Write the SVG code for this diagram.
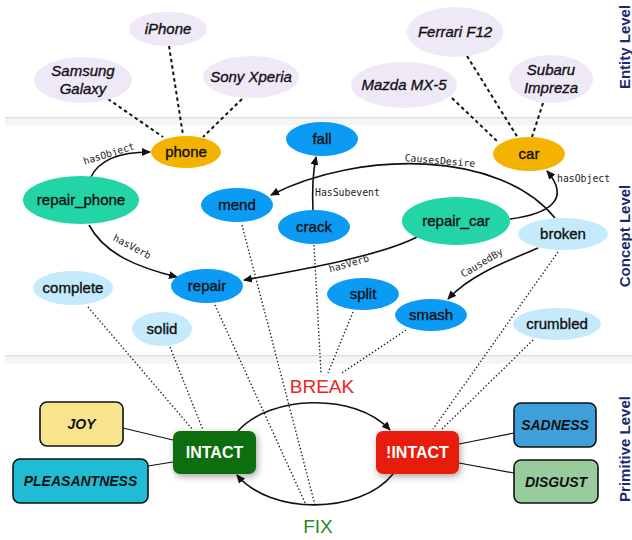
<svg xmlns="http://www.w3.org/2000/svg" width="632" height="540" viewBox="0 0 632 540">
  <style>
    .ent { fill: #EEE8F7; }
    .obj { fill: #F5B301; }
    .con { fill: #0B9BF4; }
    .task { fill: #22D4A6; }
    .adj { fill: #C4EAFB; }
    .t { font-family: "Liberation Sans", Arial, sans-serif; font-size: 15px; fill: #111; stroke: #111; stroke-width: 0.35; text-anchor: middle; }
    .ti { font-family: "Liberation Sans", Arial, sans-serif; font-size: 15px; font-style: italic; fill: #111; stroke: #111; stroke-width: 0.35; text-anchor: middle; }
    .rel { font-family: "DejaVu Sans Mono", "Liberation Mono", monospace; font-size: 9.8px; fill: #222; }
    .box { stroke: #111; stroke-width: 1.6; }
    .bt { font-family: "Liberation Sans", Arial, sans-serif; font-size: 14px; font-weight: bold; font-style: italic; fill: #111; text-anchor: middle; }
    .st { font-family: "Liberation Sans", Arial, sans-serif; font-size: 16px; font-weight: bold; fill: #fff; text-anchor: middle; }
    .lvl { font-family: "Liberation Sans", Arial, sans-serif; font-size: 15px; font-weight: bold; fill: #1B2A70; text-anchor: middle; }
    .dash { stroke: #111; stroke-width: 2; stroke-dasharray: 3.5 3; fill: none; }
    .dot { stroke: #222; stroke-width: 1.4; stroke-dasharray: 1.4 2.2; fill: none; }
    .edge { stroke: #111; stroke-width: 1.3; fill: none; }
    .arr { stroke: #111; stroke-width: 1.6; fill: none; marker-end: url(#ah); }
    .link { stroke: #111; stroke-width: 1.2; fill: none; }
  </style>
  <defs>
    <marker id="ah" markerUnits="userSpaceOnUse" markerWidth="9" markerHeight="8" refX="8" refY="4" orient="auto">
      <path d="M0,0 L9,4 L0,8 z" fill="#111"/>
    </marker>
    <filter id="shadow" x="-30%" y="-40%" width="160%" height="190%">
      <feDropShadow dx="1.5" dy="2.5" stdDeviation="3.5" flood-color="#000" flood-opacity="0.35"/>
    </filter>
  </defs>

  <rect width="632" height="540" fill="#fff"/>

  <!-- level separators -->
  <g id="separators">
    <rect x="5" y="117" width="627" height="1.6" fill="#DADFE2"/>
    <rect x="5" y="118.6" width="627" height="7" fill="#F3F5F6"/>
    <rect x="5" y="355" width="627" height="1.6" fill="#DADFE2"/>
    <rect x="5" y="356.6" width="627" height="7" fill="#F3F5F6"/>
  </g>

  <g id="connectors">
    <!-- entity instances -->
    <path class="dash" d="M108,99 L163,137"/>
    <path class="dash" d="M169,46 L183,135"/>
    <path class="dash" d="M242,99 L203,137"/>
    <path class="dash" d="M452,98 L498,142"/>
    <path class="dash" d="M467,56 L518,138"/>
    <path class="dash" d="M543,103 L532,137"/>

    <!-- concept to primitive grounding -->
    <path class="dot" d="M88,307 L193,430"/>
    <path class="dot" d="M170,347 L203,430"/>
    <path class="dot" d="M215,305 L306,505"/>
    <path class="dot" d="M242,225 L315,505"/>
    <path class="dot" d="M314,245 L321,373"/>
    <path class="dot" d="M353,312 L328,373"/>
    <path class="dot" d="M406,330 L342,373"/>
    <path class="dot" d="M558,252 L433,429"/>
    <path class="dot" d="M533,340 L442,429"/>

    <!-- concept relations -->
    <path class="arr" d="M91,177 C 100,158 125,152 150,152"/>
    <text class="rel" transform="rotate(-17 109 154)" x="109" y="157" text-anchor="middle">hasObject</text>

    <path class="arr" d="M89,225 C 105,255 140,268 177,277"/>
    <text class="rel" transform="rotate(28 132 247)" x="132" y="250" text-anchor="middle">hasVerb</text>

    <path class="arr" d="M313,211 C 312,190 313,172 316,157"/>
    <text class="rel" x="315" y="196">HasSubevent</text>

    <path class="arr" d="M555,218 C 500,150 360,150 271,195"/>
    <text class="rel" transform="rotate(5 440 161)" x="440" y="164" text-anchor="middle">CausesDesire</text>

    <path class="arr" d="M510,219 C 548,214 572,200 547,171"/>
    <text class="rel" x="557" y="182">hasObject</text>

    <path class="arr" d="M417,237 C 380,256 300,270 244,280"/>
    <text class="rel" transform="rotate(-16 349 264)" x="349" y="267" text-anchor="middle">hasVerb</text>

    <path class="arr" d="M538,248 C 505,262 470,275 448,299"/>
    <text class="rel" transform="rotate(-31 482 263)" x="482" y="266" text-anchor="middle">CausedBy</text>

    <!-- primitive level -->
    <path class="link" d="M123,428 L173,440"/>
    <path class="link" d="M148,466 L173,462"/>
    <path class="link" d="M514,433 L459,444"/>
    <path class="link" d="M514,473 L459,463"/>

    <path class="arr" d="M238,431 C 270,395 355,392 390,430"/>
    <text x="322" y="393" font-family="Liberation Sans, Arial, sans-serif" font-size="19" fill="#E8261A" text-anchor="middle">BREAK</text>
    <path class="arr" d="M393,474 C 360,515 270,515 237,475"/>
    <text x="318" y="533" font-family="Liberation Sans, Arial, sans-serif" font-size="19" fill="#2A8A22" text-anchor="middle">FIX</text>
  </g>

  <!-- entity level -->
  <g id="iphone"><ellipse class="ent" cx="168" cy="29" rx="39" ry="17"/><text class="ti" x="168" y="34">iPhone</text></g>
  <g id="samsung-galaxy"><ellipse class="ent" cx="83" cy="80" rx="49" ry="23"/><text class="ti" x="83" y="76">Samsung</text><text class="ti" x="83" y="94">Galaxy</text></g>
  <g id="sony-xperia"><ellipse class="ent" cx="251" cy="77" rx="48" ry="21"/><text class="ti" x="251" y="82">Sony Xperia</text></g>
  <g id="ferrari-f12"><ellipse class="ent" cx="455" cy="32" rx="48" ry="25"/><text class="ti" x="455" y="37">Ferrari F12</text></g>
  <g id="mazda-mx5"><ellipse class="ent" cx="404" cy="85" rx="53" ry="23"/><text class="ti" x="404" y="90">Mazda MX-5</text></g>
  <g id="subaru-impreza"><ellipse class="ent" cx="551" cy="79" rx="42" ry="24"/><text class="ti" x="551" y="75">Subaru</text><text class="ti" x="551" y="93">Impreza</text></g>

  <!-- concept level -->
  <g id="phone"><ellipse class="obj" cx="186" cy="152" rx="35" ry="16"/><text class="t" x="186" y="157">phone</text></g>
  <g id="car"><ellipse class="obj" cx="529" cy="154" rx="36" ry="17"/><text class="t" x="529" y="159">car</text></g>
  <g id="fall"><ellipse class="con" cx="322" cy="139" rx="36" ry="17"/><text class="t" x="322" y="144">fall</text></g>
  <g id="mend"><ellipse class="con" cx="237" cy="205" rx="36" ry="17"/><text class="t" x="237" y="210">mend</text></g>
  <g id="crack"><ellipse class="con" cx="314" cy="227" rx="36" ry="17"/><text class="t" x="314" y="232">crack</text></g>
  <g id="repair-phone"><ellipse class="task" cx="81" cy="200" rx="58" ry="24"/><text class="t" x="81" y="205">repair_phone</text></g>
  <g id="repair-car"><ellipse class="task" cx="456" cy="221" rx="54" ry="24"/><text class="t" x="456" y="226">repair_car</text></g>
  <g id="repair"><ellipse class="con" cx="207" cy="286" rx="36" ry="17"/><text class="t" x="207" y="291">repair</text></g>
  <g id="complete"><ellipse class="adj" cx="73" cy="288" rx="40" ry="17"/><text class="t" x="73" y="293">complete</text></g>
  <g id="solid"><ellipse class="adj" cx="162" cy="329" rx="30" ry="17"/><text class="t" x="162" y="334">solid</text></g>
  <g id="broken"><ellipse class="adj" cx="563" cy="234" rx="45" ry="16"/><text class="t" x="563" y="239">broken</text></g>
  <g id="split"><ellipse class="con" cx="363" cy="294" rx="36" ry="16"/><text class="t" x="363" y="299">split</text></g>
  <g id="smash"><ellipse class="con" cx="431" cy="315" rx="36" ry="16"/><text class="t" x="431" y="320">smash</text></g>
  <g id="crumbled"><ellipse class="adj" cx="557" cy="324" rx="44" ry="16"/><text class="t" x="557" y="329">crumbled</text></g>

  <!-- primitive level -->
  <g id="joy"><rect class="box" x="40" y="402" width="83" height="44" rx="7" fill="#F7E48C"/><text class="bt" x="81.5" y="429">JOY</text></g>
  <g id="pleasantness"><rect class="box" x="13" y="459" width="135" height="44" rx="7" fill="#20BCD6"/><text class="bt" x="80.5" y="486">PLEASANTNESS</text></g>
  <g id="intact"><rect x="173" y="431" width="83" height="43" rx="7" fill="#0B6E0B" filter="url(#shadow)"/><text class="st" x="214.5" y="458">INTACT</text></g>
  <g id="not-intact"><rect x="376" y="431" width="83" height="43" rx="7" fill="#E81F0A" filter="url(#shadow)"/><text class="st" x="417.5" y="458">!INTACT</text></g>
  <g id="sadness"><rect class="box" x="514" y="403" width="82" height="44" rx="7" fill="#3DA0DA"/><text class="bt" x="555" y="430">SADNESS</text></g>
  <g id="disgust"><rect class="box" x="514" y="460" width="84" height="43" rx="7" fill="#99CC9D"/><text class="bt" x="556" y="487">DISGUST</text></g>

  <!-- level captions -->
  <g id="level-labels">
    <text class="lvl" transform="translate(630 47) rotate(-90)">Entity Level</text>
    <text class="lvl" transform="translate(630 236) rotate(-90)">Concept Level</text>
    <text class="lvl" transform="translate(630 449) rotate(-90)">Primitive Level</text>
  </g>
</svg>
